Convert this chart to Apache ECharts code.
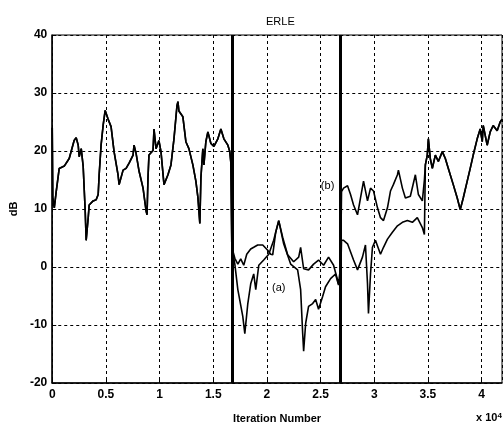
<!DOCTYPE html>
<html>
<head>
<meta charset="utf-8">
<script src="https://cdn.jsdelivr.net/npm/echarts@6/dist/echarts.min.js"></script>
<style>
  html, body { margin: 0; padding: 0; background: #fff; }
  #erle { width: 503px; height: 429px; }
</style>
</head>
<body>
<div id="erle"></div>
<script>
// iteration number in units of 10^4, ERLE in dB
// shared part before the first change point
const iterStart = [0.000, 0.005, 0.019, 0.037, 0.065, 0.112, 0.158, 0.204, 0.223, 0.242, 0.251, 0.270, 0.288, 0.307, 0.316, 0.335, 0.344, 0.381, 0.409, 0.428, 0.437, 0.455, 0.474, 0.493, 0.520, 0.548, 0.576, 0.613, 0.623, 0.660, 0.688, 0.716, 0.753, 0.762, 0.781, 0.809, 0.846, 0.874, 0.883, 0.892, 0.901, 0.939, 0.948, 0.967, 0.994, 1.013, 1.041, 1.078, 1.106, 1.134, 1.162, 1.171, 1.180, 1.217, 1.245, 1.273, 1.310, 1.338, 1.357, 1.375, 1.385, 1.403, 1.413, 1.431, 1.450, 1.478, 1.506, 1.543, 1.571, 1.599, 1.636, 1.654, 1.664];
const erleStart = [24, 12, 10.2, 13, 17, 17.4, 18.7, 21.8, 22.3, 21, 19, 20.4, 17.4, 9.7, 4.6, 8.5, 10.7, 11.4, 11.6, 12.5, 15.9, 21, 24.4, 27, 25.5, 24.2, 19.9, 15.9, 14.2, 16.7, 17, 17.9, 19.3, 21, 19.6, 16.5, 13.6, 9.7, 9, 15.4, 19.3, 20.1, 23.8, 20.4, 21.8, 19.9, 14.2, 15.9, 17.6, 22.1, 27.8, 28.5, 26.9, 25.9, 21.6, 20.4, 17.6, 14.8, 12, 7.5, 15.4, 20.4, 17.6, 21.6, 23.3, 21.3, 20.8, 22.1, 23.8, 22.1, 21, 19.9, 18];

// curve (a) between the change points
const iterA = [1.673, 1.701, 1.729, 1.775, 1.794, 1.822, 1.849, 1.877, 1.896, 1.924, 1.970, 2.017, 2.063, 2.110, 2.156, 2.221, 2.286, 2.314, 2.333, 2.342, 2.361, 2.388, 2.426, 2.454, 2.481, 2.519, 2.546, 2.593, 2.639, 2.667, 2.686, 2.695, 2.714, 2.751, 2.807, 2.844, 2.890, 2.918, 2.937, 2.946, 2.965, 2.983, 3.011, 3.058, 3.086, 3.123, 3.169, 3.216, 3.262, 3.309, 3.355, 3.401, 3.448, 3.467];
const erleA = [3.4, 0.5, -3.9, -8.5, -11.5, -6.3, -2.9, -1.2, -3.9, 0.3, 1.2, 2.2, 4.6, 8, 4, 0.5, -0.5, -3.9, -11.4, -14.5, -9.7, -6.8, -6.3, -5.6, -7.3, -5.1, -3.4, -2, -1.2, -3.1, -2, 4.6, 4.6, 4, 1.2, -0.5, 1.7, 3.8, -2.9, -8, -1.2, 3.4, 4.6, 2.2, 3.4, 4.8, 6, 7.1, 7.7, 8, 7.7, 8.5, 6.8, 5.6];

// curve (b) between the change points
const iterB = [1.673, 1.701, 1.729, 1.756, 1.784, 1.812, 1.849, 1.877, 1.914, 1.961, 2.007, 2.035, 2.054, 2.082, 2.110, 2.147, 2.193, 2.249, 2.296, 2.314, 2.342, 2.388, 2.435, 2.481, 2.528, 2.574, 2.621, 2.667, 2.686, 2.695, 2.714, 2.751, 2.779, 2.807, 2.844, 2.872, 2.900, 2.937, 2.965, 2.993, 3.030, 3.058, 3.086, 3.123, 3.151, 3.178, 3.216, 3.225, 3.262, 3.290, 3.336, 3.383, 3.411, 3.448, 3.467];
const erleB = [3.4, 1.5, 0.5, 1.4, 0.3, 2.2, 3.1, 3.4, 3.8, 3.8, 2.9, 2.2, 2.1, 6, 8, 5.1, 2.1, 0.9, 1.7, 3.4, -0.3, -0.5, 0.5, 1.2, 0.3, 1.7, 0.3, -2.9, 0, 13, 13.6, 14, 12.5, 10.7, 9, 11.9, 14.8, 11.4, 13.6, 13.1, 10.2, 8.5, 8, 10.2, 13.1, 14.2, 15.9, 16.7, 13.6, 11.9, 12.2, 15.9, 12.5, 11.4, 15];

// shared part after the curves join again
const iterEnd = [3.476, 3.494, 3.504, 3.522, 3.541, 3.569, 3.597, 3.634, 3.662, 3.690, 3.736, 3.773, 3.801, 3.829, 3.866, 3.894, 3.922, 3.959, 3.987, 4.006, 4.015, 4.052, 4.080, 4.108, 4.145, 4.173, 4.191];
const erleEnd = [17.6, 19.3, 22.1, 18.7, 17, 19.3, 18.2, 19.9, 18.7, 17, 14.2, 11.9, 9.9, 11.9, 14.8, 17, 19.3, 22.1, 23.8, 21.6, 24.4, 21, 23.3, 24.4, 23.5, 25, 25.5];

const changePoints = [1.677, 2.681];
const xTicks = [0, 0.5, 1, 1.5, 2, 2.5, 3, 3.5, 4];

function pairs(xs, ys) {
    return xs.map(function (x, i) { return [x, ys[i]]; });
}

const curveA = pairs(iterStart, erleStart).concat(pairs(iterA, erleA), pairs(iterEnd, erleEnd));
const curveB = pairs(iterStart, erleStart).concat(pairs(iterB, erleB), pairs(iterEnd, erleEnd));

const chart = echarts.init(document.getElementById('erle'));
const font = 'Liberation Sans, Arial, sans-serif';
const gridLine = { show: true, lineStyle: { color: '#000', width: 1, type: [3, 3] } };

const option = {
    animation: false,
    backgroundColor: '#fff',
    title: {
        text: 'ERLE',
        left: 261,
        top: 11,
        textStyle: { fontFamily: font, fontSize: 11, fontWeight: 'normal', color: '#000' }
    },
    grid: {
        left: 51, right: 1, top: 35, bottom: 41,
        show: true, borderColor: '#000', borderWidth: 1
    },
    xAxis: {
        type: 'value',
        min: 0, max: 4.19, interval: 0.5,
        name: 'Iteration Number',
        nameLocation: 'middle',
        nameGap: 30,
        nameTextStyle: { fontFamily: font, fontSize: 11, fontWeight: 'bold', color: '#000' },
        axisLine: { show: true, onZero: false, lineStyle: { color: '#000', width: 1.5 } },
        axisTick: { show: true, inside: true, length: 4, lineStyle: { color: '#000' } },
        axisLabel: {
            fontFamily: font, fontSize: 12, fontWeight: 'bold', color: '#000', margin: 6,
            showMaxLabel: false,
            formatter: function (v) { return xTicks.indexOf(v) >= 0 ? String(v) : ''; }
        },
        splitLine: gridLine
    },
    yAxis: {
        type: 'value',
        min: -20, max: 40, interval: 10,
        name: 'dB',
        nameLocation: 'middle',
        nameGap: 32,
        nameTextStyle: { fontFamily: font, fontSize: 11, fontWeight: 'bold', color: '#000' },
        axisLine: { show: true, onZero: false, lineStyle: { color: '#000', width: 1.5 } },
        axisTick: { show: true, inside: true, length: 4, lineStyle: { color: '#000' } },
        axisLabel: { fontFamily: font, fontSize: 12, fontWeight: 'bold', color: '#000', margin: 5 },
        splitLine: gridLine
    },
    series: [
        {
            name: '(a)',
            type: 'line',
            data: curveA,
            showSymbol: false,
            lineStyle: { color: '#000', width: 1.6 },
            markLine: {
                silent: true,
                symbol: 'none',
                label: { show: false },
                lineStyle: { color: '#000', width: 3, type: 'solid' },
                data: changePoints.map(function (c) { return { xAxis: c }; })
            },
            markPoint: {
                symbol: 'circle', symbolSize: 0,
                label: { show: true, formatter: '(a)', color: '#000', fontFamily: font, fontSize: 11 },
                data: [{ coord: [2.11, -3.7] }]
            }
        },
        {
            name: '(b)',
            type: 'line',
            data: curveB,
            showSymbol: false,
            lineStyle: { color: '#000', width: 1.6 },
            markPoint: {
                symbol: 'circle', symbolSize: 0,
                label: { show: true, formatter: '(b)', color: '#000', fontFamily: font, fontSize: 11 },
                data: [{ coord: [2.565, 14] }]
            }
        }
    ],
    graphic: [{
        type: 'text',
        left: 476,
        top: 412,
        style: {
            text: 'x 10{s|4}',
            rich: { s: { fontSize: 8, verticalAlign: 'top', fontFamily: font, fontWeight: 'bold' } },
            fontFamily: font, fontSize: 11, fontWeight: 'bold', fill: '#000'
        }
    }]
};
chart.setOption(option);
</script>
</body>
</html>
